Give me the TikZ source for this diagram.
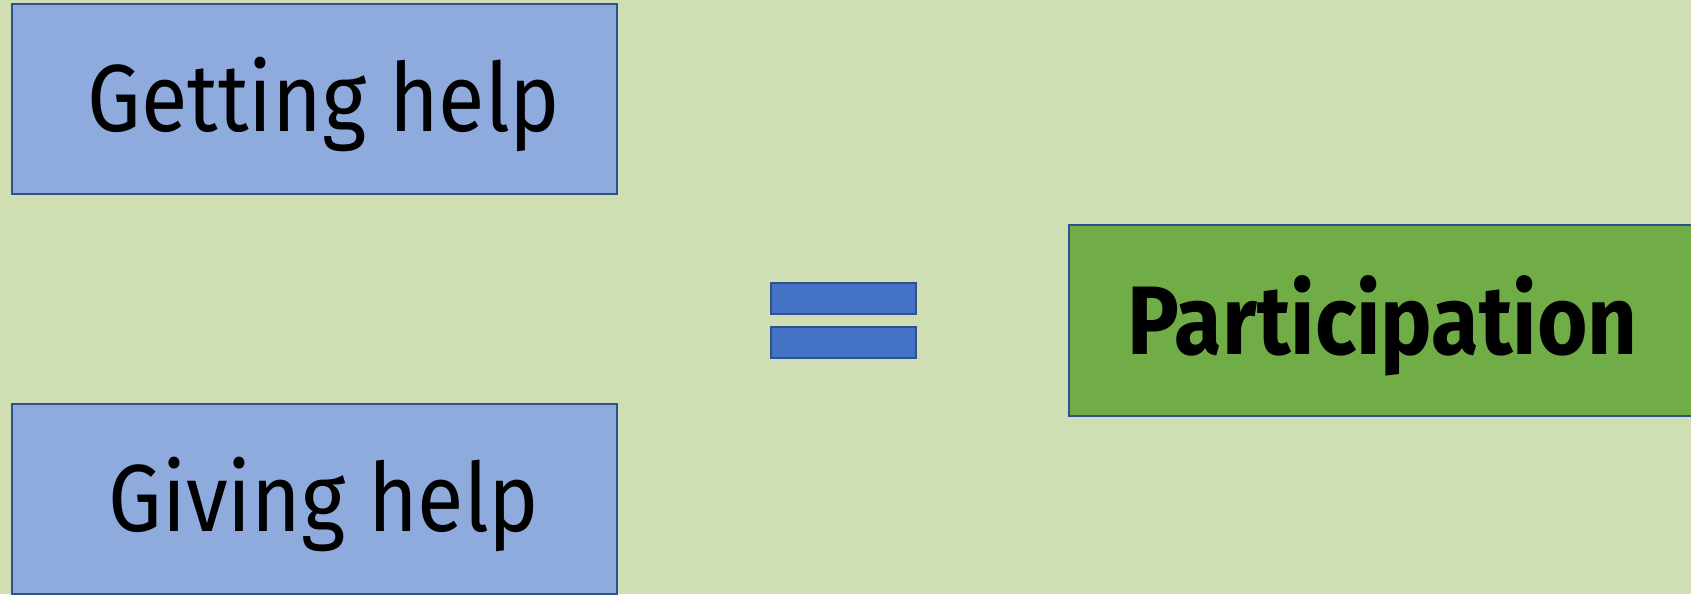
\documentclass[tikz,border=0pt]{standalone}
\usepackage{fontspec}
\setmainfont[FakeStretch=0.89]{Fira Sans}
\definecolor{slide}{HTML}{D0DEB4}
\definecolor{edgeblue}{HTML}{2F528F}
\definecolor{helpblue}{HTML}{8FAADC}
\definecolor{barblue}{HTML}{4472C4}
\definecolor{partgreen}{HTML}{70AD47}
\begin{document}
\begin{tikzpicture}[x=0.5pt,y=-0.5pt,every node/.style={draw=edgeblue,line width=1pt,inner sep=0pt,text depth=5pt,font=\fontsize{47.5bp}{56bp}\selectfont},
  helpbox/.style={fill=helpblue,minimum width=302.5pt,minimum height=95pt},
  eqbar/.style={fill=barblue,minimum width=72.5pt,minimum height=15.5pt}]
\useasboundingbox (0,0) rectangle (1691,594);
\fill[slide] (0,0) rectangle (1691,594);
\clip (0,0) rectangle (1691,594);
\node[helpbox] (getting) at (314.5,99) {\hspace*{9.5pt}Getting help};
\node[helpbox] (giving) at (314.5,499) {\hspace*{9.5pt}Giving help};
\node[eqbar] (eqtop) at (843.5,298.5) {};
\node[eqbar] (eqbottom) at (843.5,342.5) {};
\node[fill=partgreen,minimum width=313.5pt,minimum height=95.5pt,font=\fontsize{48.5bp}{56bp}\selectfont\bfseries] (part) at (1382.5,320.5) {Participation};
\end{tikzpicture}
\end{document}
